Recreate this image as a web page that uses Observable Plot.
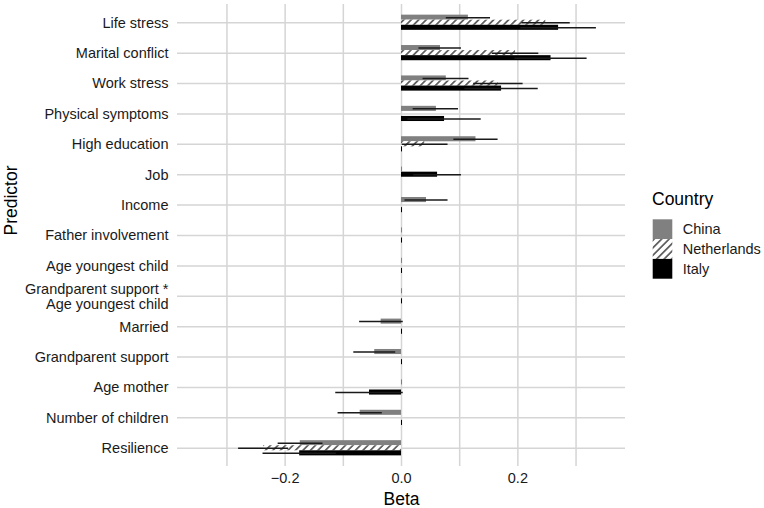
<!DOCTYPE html>
<html>
<head>
<meta charset="utf-8">
<script src="https://cdn.jsdelivr.net/npm/d3@7"></script>
<script src="https://cdn.jsdelivr.net/npm/@observablehq/plot@0.6"></script>
<style>
  body { margin: 0; background: #fff; }
  #wrap { position: relative; width: 764px; height: 508px; font-family: "Liberation Sans", Arial, Helvetica, sans-serif; }
  #legend { position: absolute; left: 652px; top: 185px; }
</style>
</head>
<body>
<div id="wrap"></div>
<script>
// ---- data ----
const predictors = [
  "Life stress", "Marital conflict", "Work stress", "Physical symptoms",
  "High education", "Job", "Income", "Father involvement", "Age youngest child",
  "Grandparent support *\nAge youngest child", "Married", "Grandparent support",
  "Age mother", "Number of children", "Resilience"
];
const countries = ["China", "Netherlands", "Italy"];

const chinaBeta = [0.115, 0.067, 0.077, 0.060, 0.128, 0, 0.043, 0, 0, 0, -0.035, -0.046, 0, -0.071, -0.174];
const chinaLow  = [0.077, 0.030, 0.037, 0.020, 0.090, null, 0.006, null, null, null, -0.072, -0.082, null, -0.109, -0.212];
const chinaHigh = [0.153, 0.103, 0.116, 0.098, 0.166, null, 0.080, null, null, null, 0.003, -0.010, null, -0.033, -0.135];

const netherlandsBeta = [0.248, 0.196, 0.166, 0, 0.040, null, 0, 0, 0, 0, 0, 0, 0, 0, -0.237];
const netherlandsLow  = [0.207, 0.156, 0.124, null, 0.001, null, null, null, null, null, null, null, null, null, -0.280];
const netherlandsHigh = [0.290, 0.236, 0.209, null, 0.080, null, null, null, null, null, null, null, null, null, -0.194];

const italyBeta = [0.270, 0.257, 0.172, 0.074, 0, 0.062, 0, 0, 0, 0, 0, 0, -0.055, 0, -0.175];
const italyLow  = [0.205, 0.195, 0.109, 0.011, null, 0.021, null, null, null, null, null, null, -0.113, null, -0.238];
const italyHigh = [0.335, 0.319, 0.235, 0.137, null, 0.103, null, null, null, null, null, null, 0.003, null, -0.112];

const xTickValues = [-0.2, 0, 0.2];
const xGridValues = [-0.3, -0.2, -0.1, 0, 0.1, 0.2, 0.3];
const xLimits = [-0.385, 0.385];
const countryColors = ["#808080", "url(#hatch)", "#000000"];

// ---- build table (dodge like ggplot position_dodge(preserve = "single")) ----
const series = {
  China: [chinaBeta, chinaLow, chinaHigh],
  Netherlands: [netherlandsBeta, netherlandsLow, netherlandsHigh],
  Italy: [italyBeta, italyLow, italyHigh]
};
const dodgeWidth = 0.5;
const rows = [];
predictors.forEach((p, i) => {
  const present = countries.filter(c => series[c][0][i] !== null);
  present.forEach((c, k) => {
    const center = i + ((k + 0.5) / countries.length) * dodgeWidth - dodgeWidth / 2;
    const half = dodgeWidth / countries.length / 2;
    rows.push({
      predictor: p, index: i, country: c,
      beta: series[c][0][i], lo: series[c][1][i], hi: series[c][2][i],
      y: center, y1: center - half, y2: center + half
    });
  });
});

const gridColor = "#d5d5d5";
const idx = d3.range(predictors.length);

const svg = Plot.plot({
  width: 764,
  height: 508,
  marginLeft: 177,
  marginRight: 139,
  marginTop: 4,
  marginBottom: 42,
  style: { fontFamily: "'Liberation Sans', Arial, Helvetica, sans-serif", fontSize: "14.5px", background: "#fff", color: "#1a1a1a", overflow: "visible" },
  x: { domain: xLimits },
  y: { domain: [-0.6, predictors.length - 0.4], reverse: true },
  color: { type: "ordinal", domain: countries, range: countryColors },
  marks: [
    Plot.gridX(xGridValues, { stroke: gridColor, strokeOpacity: 1, strokeWidth: 1.5 }),
    Plot.gridY(idx, { stroke: gridColor, strokeOpacity: 1, strokeWidth: 1.5 }),
    Plot.rect(rows.filter(d => d.beta !== 0), { x1: 0, x2: "beta", y1: "y1", y2: "y2", fill: "country" }),
    Plot.ruleX(rows.filter(d => d.beta === 0 && d.country !== "Netherlands"), { x: "beta", y1: "y1", y2: "y2", stroke: "country", strokeWidth: 1 }),
    Plot.ruleY(rows.filter(d => d.lo !== null), { x1: "lo", x2: "hi", y: "y", stroke: "#1a1a1a", strokeWidth: 1.5 }),
    Plot.axisX(xTickValues, { tickSize: 0, tickPadding: 6.5, tickFormat: d3.format(".1f"), fontSize: 14.5, label: null }),
    Plot.axisY(idx, { tickSize: 0, tickPadding: 9, tickFormat: i => predictors[i], fontSize: 14.5, label: null, lineHeight: 1.05 }),
    Plot.text(["Beta"], { text: d => d, frameAnchor: "bottom", dy: 32.5, fontSize: 17.5, lineAnchor: "middle", fill: "#000" }),
    Plot.text(["Predictor"], { text: d => d, frameAnchor: "left", dx: -166, rotate: -90, fontSize: 17.5, lineAnchor: "middle", fill: "#000" })
  ]
});

// hatch pattern for Netherlands
const defs = d3.select(svg).insert("defs", ":first-child");
const pat = defs.append("pattern").attr("id", "hatch").attr("patternUnits", "userSpaceOnUse")
  .attr("width", 5.3).attr("height", 5.3).attr("patternTransform", "rotate(45)");
pat.append("rect").attr("width", 5.3).attr("height", 5.3).attr("fill", "#fff");
pat.append("line").attr("x1", 2.65).attr("y1", -1).attr("x2", 2.65).attr("y2", 6.3)
  .attr("stroke", "#000").attr("stroke-width", 1.1);

const wrap = document.getElementById("wrap");
wrap.appendChild(svg);

// legend
const lg = d3.create("svg").attr("id", "legend").attr("width", 112).attr("height", 100)
  .style("font-family", "'Liberation Sans', Arial, Helvetica, sans-serif");
const ldefs = lg.append("defs");
const lpat = ldefs.append("pattern").attr("id", "hatchLegend").attr("patternUnits", "userSpaceOnUse")
  .attr("width", 5.3).attr("height", 5.3).attr("patternTransform", "rotate(45)");
lpat.append("rect").attr("width", 5.3).attr("height", 5.3).attr("fill", "#fff");
lpat.append("line").attr("x1", 2.65).attr("y1", -1).attr("x2", 2.65).attr("y2", 6.3)
  .attr("stroke", "#000").attr("stroke-width", 1.1);
lg.append("text").attr("x", 0).attr("y", 20).attr("font-size", 17.5).attr("fill", "#000").text("Country");
countries.forEach((c, k) => {
  const fill = countryColors[k] === "url(#hatch)" ? "url(#hatchLegend)" : countryColors[k];
  lg.append("rect").attr("x", 0.7).attr("y", 34.3 + k * 19.8).attr("width", 19.6).attr("height", 19.8).attr("fill", fill);
  lg.append("text").attr("x", 30.7).attr("y", 44.2 + k * 19.8).attr("dy", "0.35em").attr("font-size", 14.5).attr("fill", "#1a1a1a").text(c);
});
wrap.appendChild(lg.node());
</script>
</body>
</html>
